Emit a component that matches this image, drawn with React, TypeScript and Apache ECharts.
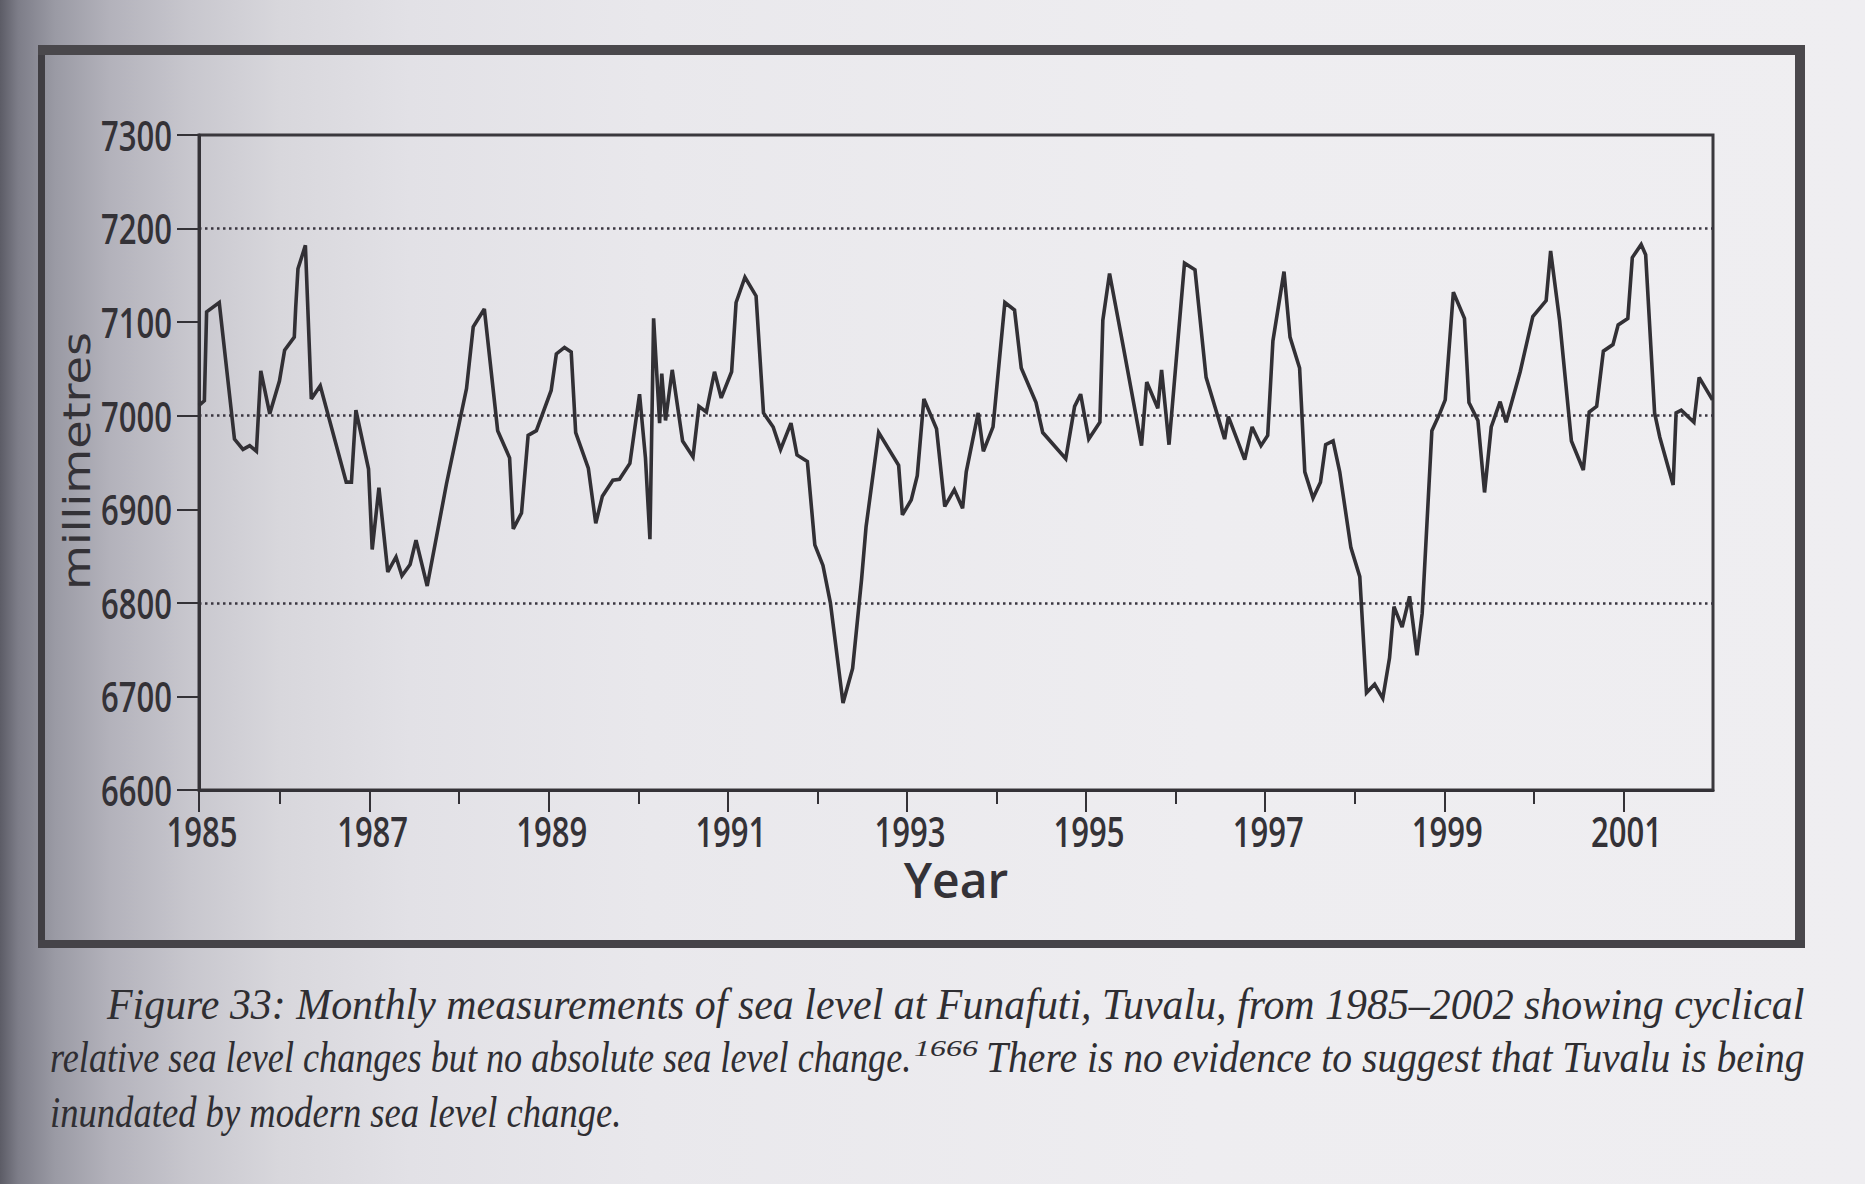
import React, { useEffect, useRef } from "react";
import * as echarts from "echarts";

// ---- data: decimal year and sea level (mm) ----
const timesA = [1985.095, 1985.155, 1985.18, 1985.321, 1985.491, 1985.586, 1985.661, 1985.736, 1985.785, 1985.885, 1985.993, 1986.051, 1986.159, 1986.175, 1986.2, 1986.283, 1986.349, 1986.449, 1986.739, 1986.797, 1986.847, 1986.988, 1987.029, 1987.104, 1987.203, 1987.295, 1987.361, 1987.452, 1987.518, 1987.643, 1987.858, 1988.082, 1988.157, 1988.281, 1988.43, 1988.563, 1988.604, 1988.696, 1988.77, 1988.862, 1989.027, 1989.085, 1989.176, 1989.251];
const levelsA = [7011, 7016, 7111, 7121, 6975, 6964, 6968, 6962, 7048, 7002, 7037, 7070, 7084, 7116, 7157, 7182, 7018, 7032, 6929, 6929, 7006, 6943, 6857, 6923, 6833, 6849, 6829, 6841, 6867, 6818, 6927, 7029, 7095, 7114, 6984, 6955, 6879, 6896, 6979, 6984, 7027, 7066, 7073, 7068];

const timesB = [1989.301, 1989.442, 1989.525, 1989.599, 1989.716, 1989.79, 1989.906, 1990.014, 1990.08, 1990.13, 1990.171, 1990.238, 1990.262, 1990.304, 1990.379, 1990.495, 1990.611, 1990.677, 1990.76, 1990.851, 1990.926, 1991.042, 1991.092, 1991.191, 1991.315, 1991.398, 1991.506, 1991.589, 1991.705, 1991.772, 1991.888, 1991.971, 1992.062, 1992.145, 1992.286, 1992.393, 1992.493, 1992.543, 1992.684, 1992.907, 1992.949, 1993.048, 1993.115, 1993.189, 1993.33, 1993.422, 1993.529, 1993.621];
const levelsB = [6982, 6944, 6885, 6914, 6931, 6932, 6949, 7023, 6955, 6868, 7104, 6992, 7045, 6995, 7049, 6973, 6956, 7010, 7004, 7047, 7019, 7047, 7121, 7148, 7128, 7003, 6988, 6964, 6992, 6958, 6951, 6862, 6840, 6800, 6693, 6730, 6825, 6881, 6982, 6947, 6894, 6910, 6936, 7018, 6986, 6903, 6921, 6901];

const timesC = [1993.662, 1993.795, 1993.853, 1993.961, 1994.093, 1994.201, 1994.276, 1994.441, 1994.516, 1994.773, 1994.872, 1994.939, 1995.03, 1995.154, 1995.187, 1995.262, 1995.411, 1995.619, 1995.677, 1995.801, 1995.843, 1995.926, 1996.099, 1996.216, 1996.34, 1996.547, 1996.589, 1996.771, 1996.854, 1996.953, 1997.028, 1997.086, 1997.21, 1997.277, 1997.384, 1997.442, 1997.534, 1997.617, 1997.675, 1997.758, 1997.832];
const levelsC = [6940, 7003, 6962, 6988, 7121, 7113, 7051, 7014, 6982, 6954, 7010, 7023, 6975, 6993, 7102, 7152, 7076, 6968, 7036, 7008, 7049, 6969, 7163, 7156, 7041, 6975, 6999, 6953, 6988, 6968, 6979, 7080, 7154, 7084, 7051, 6940, 6912, 6929, 6969, 6973, 6940];

const timesD = [1997.957, 1998.056, 1998.131, 1998.222, 1998.313, 1998.388, 1998.438, 1998.529, 1998.612, 1998.695, 1998.753, 1998.861, 1998.952, 1999.01, 1999.101, 1999.225, 1999.275, 1999.375, 1999.449, 1999.524, 1999.623, 1999.69, 1999.847, 1999.988, 2000.137, 2000.187, 2000.287, 2000.419, 2000.552, 2000.618, 2000.701, 2000.776, 2000.883, 2000.941, 2001.049, 2001.099, 2001.198, 2001.248, 2001.348, 2001.406, 2001.555, 2001.588, 2001.646, 2001.787, 2001.845, 2001.994];
const levelsD = [6859, 6828, 6704, 6713, 6698, 6741, 6796, 6774, 6807, 6744, 6789, 6984, 7003, 7017, 7132, 7104, 7014, 6995, 6918, 6988, 7015, 6993, 7047, 7106, 7123, 7176, 7102, 6973, 6942, 7004, 7010, 7069, 7076, 7097, 7104, 7169, 7183, 7172, 7003, 6977, 6926, 7003, 7006, 6993, 7041, 7017];

// axis extents and tick labels
const X_MIN = 1985.095;
const X_MAX = 2002;
const labelledYears = [1985, 1987, 1989, 1991, 1993, 1995, 1997, 1999, 2001];
const minorYears = [1986, 1988, 1990, 1992, 1994, 1996, 1998, 2000];
const yTickLabels = [6600, 6700, 6800, 6900, 7000, 7100, 7200, 7300];
const Y_MIN = 6600;
const Y_MAX = 7300;
const Y_STEP = 100;
const GRID_STEP = 200;

const yAxisTitle = "millimetres";
const xAxisTitle = "Year";
const captionLine1 = "Figure 33: Monthly measurements of sea level at Funafuti, Tuvalu, from 1985–2002 showing cyclical";
const captionLine2a = "relative sea level changes but no absolute sea level change.";
const captionNote = "1666";
const captionLine2b = "There is no evidence to suggest that Tuvalu is being";
const captionLine3 = "inundated by modern sea level change.";

const INK = "#343237";
const LABEL_FONT = '"Open Sans", "Noto Sans", "Liberation Sans", sans-serif';
const SERIF = '"Liberation Serif", "DejaVu Serif", serif';

function textWidth(text: string, size: number, family: string, style = "normal", weight: string | number = "normal") {
  const ctx = document.createElement("canvas").getContext("2d");
  if (!ctx) return text.length * size * 0.5;
  ctx.font = `${style} ${weight} ${size}px ${family}`;
  return ctx.measureText(text).width || 1;
}

function fitted(text: string, x: number, baseline: number, width: number, size: number, family: string, style = "normal") {
  const w = textWidth(text, size, family, style);
  return {
    type: "text",
    x,
    y: baseline - 0.3375 * size,
    scaleX: width / w,
    silent: true,
    style: {
      text,
      fontSize: size,
      fontFamily: family,
      fontStyle: style,
      fill: "#2f2e32",
      align: "left",
      verticalAlign: "middle",
    },
  };
}

export default function App() {
  const ref = useRef<HTMLDivElement>(null);

  useEffect(() => {
    document.body.style.margin = "0";
    if (!ref.current) return;
    const chart = echarts.init(ref.current, undefined, { renderer: "svg" });

    const toPairs = (t: number[], v: number[]) => t.map((x, i) => [x, v[i]]);
    const data = [
      ...toPairs(timesA, levelsA),
      ...toPairs(timesB, levelsB),
      ...toPairs(timesC, levelsC),
      ...toPairs(timesD, levelsD),
    ];
    const majorTicks = labelledYears.map((y) => Math.max(y, X_MIN));

    chart.setOption({
      animation: false,
      backgroundColor: "transparent",
      grid: {
        left: 199,
        top: 135,
        width: 1514,
        height: 655,
        show: true,
        borderColor: "#3a383d",
        borderWidth: 3,
        backgroundColor: "transparent",
      },
      xAxis: [
        {
          type: "value",
          min: X_MIN,
          max: X_MAX,
          position: "bottom",
          axisLine: { show: true, lineStyle: { color: INK, width: 3 } },
          axisTick: { show: true, customValues: majorTicks, length: 22, lineStyle: { color: INK, width: 2 } },
          axisLabel: { show: false },
          splitLine: { show: false },
          name: xAxisTitle,
          nameLocation: "middle",
          nameGap: 65,
          nameTextStyle: { fontSize: 48, fontFamily: LABEL_FONT, fontWeight: 600, color: INK },
        },
        {
          type: "value",
          min: X_MIN,
          max: X_MAX,
          position: "bottom",
          axisLine: { show: false },
          axisTick: { show: true, customValues: minorYears, length: 14, lineStyle: { color: INK, width: 2 } },
          axisLabel: { show: false },
          splitLine: { show: false },
        },
      ],
      yAxis: [
        {
          type: "value",
          min: Y_MIN,
          max: Y_MAX,
          interval: Y_STEP,
          position: "left",
          axisLine: { show: true, lineStyle: { color: INK, width: 3 } },
          axisTick: { show: true, length: 22, lineStyle: { color: INK, width: 2 } },
          axisLabel: { show: false },
          splitLine: { show: false },
        },
        {
          type: "value",
          min: Y_MIN,
          max: Y_MAX,
          interval: GRID_STEP,
          position: "left",
          axisLine: { show: false },
          axisTick: { show: false },
          axisLabel: { show: false },
          splitLine: {
            show: true,
            showMinLine: false,
            showMaxLine: false,
            lineStyle: { color: "#3a3640", width: 2.5, type: [2.5, 3.5] },
          },
        },
      ],
      series: [
        {
          type: "line",
          xAxisIndex: 0,
          yAxisIndex: 0,
          data,
          showSymbol: false,
          symbol: "none",
          lineStyle: { color: "#323035", width: 3.6, join: "miter", miterLimit: 3 },
          z: 5,
        },
      ],
    });

    // tick labels placed through the axes' own scales, narrowed to the figure's condensed face
    const labelSize = 42;
    const labelScale = 71 / textWidth("7300", labelSize, LABEL_FONT, "normal", 600);
    const axisX = chart.convertToPixel({ xAxisIndex: 0 }, X_MIN) as number;
    const axisY = chart.convertToPixel({ yAxisIndex: 0 }, Y_MIN) as number;
    const labelStyle = (text: string, align: string) => ({
      text,
      fontSize: labelSize,
      fontFamily: LABEL_FONT,
      fontWeight: 600,
      fill: INK,
      align,
      verticalAlign: "middle",
    });
    const yLabels = yTickLabels.map((v) => ({
      type: "text",
      silent: true,
      x: axisX - 27,
      y: chart.convertToPixel({ yAxisIndex: 0 }, v) as number,
      scaleX: labelScale,
      style: labelStyle(String(v), "right"),
    }));
    const xLabels = labelledYears.map((yr, i) => ({
      type: "text",
      silent: true,
      x: (chart.convertToPixel({ xAxisIndex: 0 }, majorTicks[i]) as number) + 3,
      y: axisY + 41,
      scaleX: labelScale,
      style: labelStyle(String(yr), "center"),
    }));

    const titleSize = 37;
    const titleW = textWidth(yAxisTitle, titleSize, '"DejaVu Sans"');

    chart.setOption({
      graphic: [
        // outer frame
        { type: "rect", silent: true, shape: { x: 38, y: 45, width: 7, height: 903 }, style: { fill: "#403e43" } },
        { type: "rect", silent: true, shape: { x: 38, y: 45, width: 1767, height: 10 }, style: { fill: "#4a484c" } },
        { type: "rect", silent: true, shape: { x: 1795, y: 45, width: 10, height: 903 }, style: { fill: "#4a484c" } },
        { type: "rect", silent: true, shape: { x: 38, y: 940, width: 1767, height: 8 }, style: { fill: "#454348" } },
        ...yLabels,
        ...xLabels,
        {
          type: "text",
          x: 77,
          y: 461,
          rotation: Math.PI / 2,
          scaleX: 258 / titleW,
          silent: true,
          style: {
            text: yAxisTitle,
            fontSize: titleSize,
            fontFamily: '"DejaVu Sans", sans-serif',
            fill: INK,
            align: "center",
            verticalAlign: "middle",
          },
        },
        fitted(captionLine1, 107, 1019, 1698, 45, SERIF, "italic"),
        fitted(captionLine2a, 50, 1072, 862, 45, SERIF, "italic"),
        fitted(captionNote, 914, 1056, 64, 23, SERIF, "italic"),
        fitted(captionLine2b, 986, 1072, 819, 45, SERIF, "italic"),
        fitted(captionLine3, 50, 1127, 572, 45, SERIF, "italic"),
      ],
    });

    return () => chart.dispose();
  }, []);

  return (
    <div
      ref={ref}
      style={{
        width: 1865,
        height: 1184,
        background:
          "linear-gradient(to right, #5c5c66 0px, #7d7d88 18px, #9a9aa4 55px, #b3b2bb 110px, #c8c7ce 190px, #d8d7dc 280px, #e2e1e6 410px, #e9e8ec 650px, #eeedf0 1200px, #efeef1 1865px)",
      }}
    />
  );
}
